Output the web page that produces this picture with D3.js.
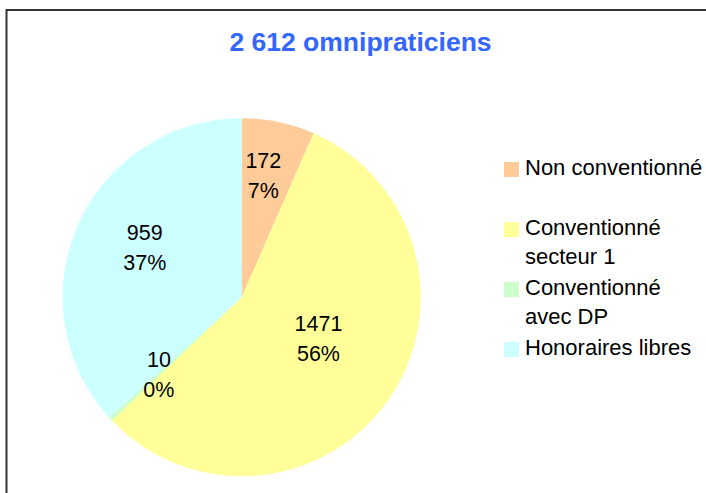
<!DOCTYPE html>
<html>
<head>
<meta charset="utf-8">
<script src="https://cdn.jsdelivr.net/npm/d3@7"></script>
<style>
  body { margin: 0; background: #fff; }
  svg { display: block; font-family: "Liberation Sans", Arial, sans-serif; }
</style>
</head>
<body>
<svg width="706" height="493"></svg>
<script>
var title = "2 612 omnipraticiens";
var categories = ["Non conventionné", "Conventionné secteur 1", "Conventionné avec DP", "Honoraires libres"];
var legendLines = [["Non conventionné"], ["Conventionné", "secteur 1"], ["Conventionné", "avec DP"], ["Honoraires libres"]];
var values = [172, 1471, 10, 959];
var colors = ["#FFCC99", "#FFFF99", "#CCFFCC", "#CCFFFF"];

// label placement: distance from the centre and a small turn (degrees)
var labelRadius = [124, 87, 113, 109];
var labelTurn = [-1.8, -7, 0, 3.3];

var svg = d3.select("svg"),
    width = 706,
    height = 493;

var total = d3.sum(values);

// frame
svg.append("rect")
    .attr("x", 6.5)
    .attr("y", 10)
    .attr("width", 740)
    .attr("height", 520)
    .attr("fill", "none")
    .attr("stroke", "#333")
    .attr("stroke-width", 2);

svg.append("text")
    .attr("x", 360.5)
    .attr("y", 51)
    .attr("text-anchor", "middle")
    .attr("font-size", 26.5)
    .attr("font-weight", "bold")
    .attr("fill", "#3366FF")
    .text(title);

var cx = 241.7, cy = 297.2, radius = 179;

var pie = d3.pie().sort(null).value(function(d) { return d; });
var arcs = pie(values);

var arc = d3.arc().innerRadius(0).outerRadius(radius);

var g = svg.append("g").attr("transform", "translate(" + cx + "," + cy + ")");

g.selectAll("path")
    .data(arcs)
    .enter().append("path")
    .attr("d", arc)
    .attr("fill", function(d, i) { return colors[i]; });

var labels = g.selectAll("text.lbl")
    .data(arcs)
    .enter().append("text")
    .attr("class", "lbl")
    .attr("font-size", 21.5)
    .attr("text-anchor", "middle")
    .attr("fill", "#000")
    .attr("transform", function(d, i) {
        var a = (d.startAngle + d.endAngle) / 2 + labelTurn[i] * Math.PI / 180;
        var r = labelRadius[i];
        return "translate(" + (Math.sin(a) * r) + "," + (-Math.cos(a) * r) + ")";
    });

labels.append("tspan")
    .attr("x", 0)
    .attr("y", -7.5)
    .text(function(d) { return d.data; });

labels.append("tspan")
    .attr("x", 0)
    .attr("y", 22.5)
    .text(function(d) { return Math.round(d.data / total * 100) + "%"; });

// legend
var ly = d3.scalePoint().domain(categories).range([175, 355]);

var legend = svg.append("g").selectAll("g")
    .data(categories)
    .enter().append("g")
    .attr("transform", function(d) { return "translate(504," + ly(d) + ")"; });

legend.append("rect")
    .attr("x", 0)
    .attr("y", -13)
    .attr("width", 15)
    .attr("height", 15)
    .attr("fill", function(d, i) { return colors[i]; });

legend.append("text")
    .attr("font-size", 22)
    .attr("fill", "#000")
    .selectAll("tspan")
    .data(function(d, i) { return legendLines[i]; })
    .enter().append("tspan")
    .attr("x", 21)
    .attr("y", function(d, j) { return j * 29; })
    .text(function(d) { return d; });
</script>
</body>
</html>
